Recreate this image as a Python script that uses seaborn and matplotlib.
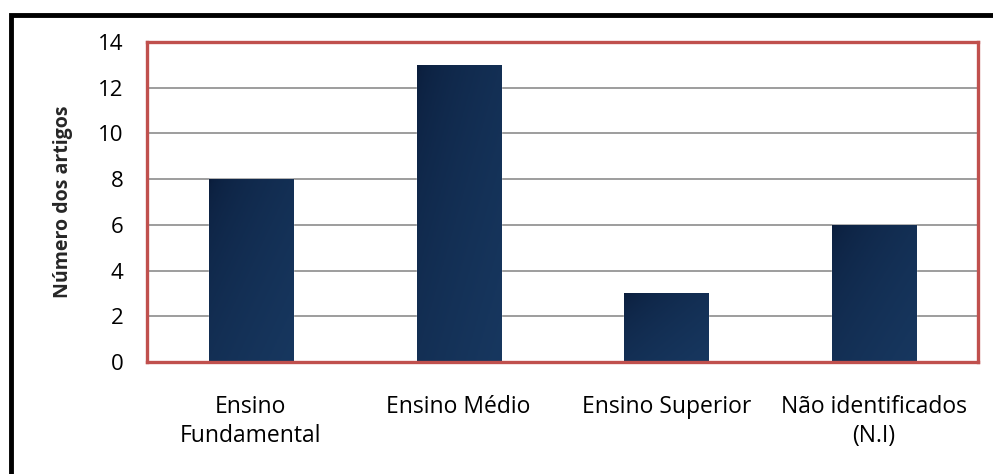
import numpy as np
import pandas as pd
import seaborn as sns
import matplotlib
matplotlib.use("Agg")
import matplotlib.pyplot as plt
from matplotlib.patches import Rectangle
from matplotlib.colors import LinearSegmentedColormap

categories = ["Ensino\nFundamental", "Ensino Médio", "Ensino Superior", "Não identificados\n(N.I)"]
values = [8, 13, 3, 6]
yticks = [0, 2, 4, 6, 8, 10, 12, 14]

sns.set_style("white")
plt.rcParams['font.family'] = ['Open Sans', 'DejaVu Sans']
plt.rcParams['text.color'] = 'black'
plt.rcParams['xtick.labelcolor'] = 'black'
plt.rcParams['ytick.labelcolor'] = 'black'

df = pd.DataFrame({"cat": categories, "n": values})

fig = plt.figure(figsize=(9.93, 4.74), dpi=100)
ax = fig.add_axes([147 / 993, 1 - 362 / 474, (978 - 147) / 993, (362 - 42) / 474])

sns.barplot(data=df, x="cat", y="n", ax=ax, color="#12305a", width=0.405, zorder=3)

# gradient fill on each bar: dark top-left -> lighter bottom-right
cmap = LinearSegmentedColormap.from_list("navy", ["#0a1c3a", "#17375f"])
grad = np.add.outer(np.linspace(0, 1, 50), np.linspace(0, 1, 50)) / 2
grad = np.sqrt(grad)
for p in ax.patches:
    x0, y0 = p.get_x(), p.get_y()
    w, h = p.get_width(), p.get_height()
    im = ax.imshow(grad, cmap=cmap, extent=[x0, x0 + w, y0, y0 + h],
                   aspect="auto", origin="upper", zorder=4)
    im.set_clip_path(p)

ax.set_xlim(-0.5, len(categories) - 0.5)
ax.set_ylim(0, 14)
ax.set_yticks(yticks)
ax.set_yticklabels([str(t) for t in yticks], fontsize=16)
ax.set_xticks(np.arange(len(categories) + 1) - 0.5, minor=True)
ax.set_xticks(np.arange(len(categories)))
ax.set_xticklabels(categories, fontsize=16.5, linespacing=1.25)
ax.tick_params(axis="x", which="major", length=0, pad=24)
ax.tick_params(axis="x", which="minor", length=6, width=1.2, color="#8c8c8c", direction="out")
ax.tick_params(axis="y", length=6, width=1.2, color="#8c8c8c", direction="out", pad=11)
ax.set_xlabel("")
ax.set_ylabel("Número dos artigos", fontsize=14, fontweight="bold", labelpad=18)

ax.yaxis.grid(True, color="#8c8c8c", lw=1.2, zorder=0)
ax.set_axisbelow(True)
for s in ax.spines.values():
    s.set_color("#c0504d")
    s.set_linewidth(2.4)
    s.set_zorder(5)

# outer black frame (only left and top fall inside the image)
fig.patches.append(Rectangle((10.5 / 993, -20 / 474), 1010 / 993, (474 - 14.5 + 20) / 474,
                             transform=fig.transFigure, fill=False,
                             edgecolor="black", lw=3.5))

fig.savefig("out.png", dpi=100)
